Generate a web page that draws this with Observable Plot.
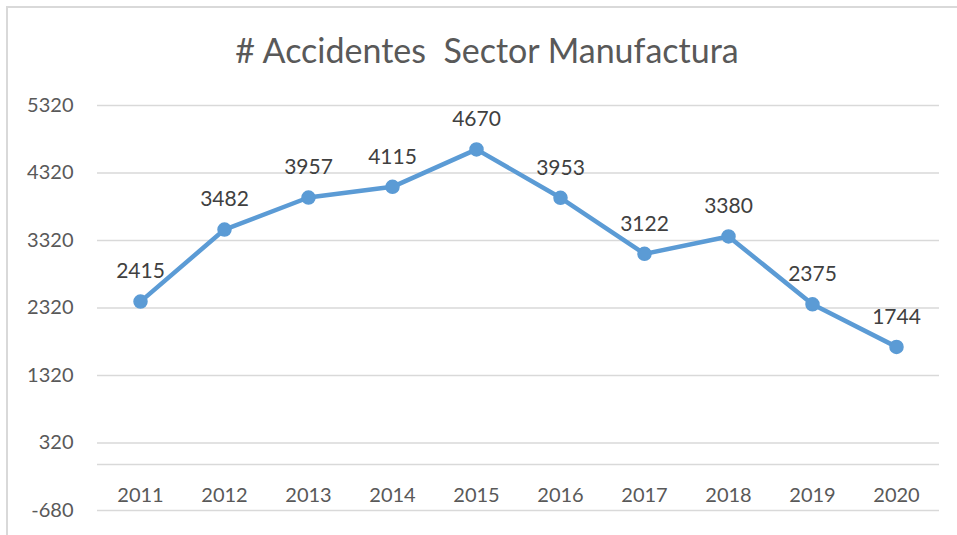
<!DOCTYPE html>
<html>
<head>
<meta charset="utf-8">
<script src="https://cdn.jsdelivr.net/npm/d3@7"></script>
<script src="https://cdn.jsdelivr.net/npm/@observablehq/plot@0.6"></script>
<style>
  html, body { margin: 0; padding: 0; background: #fff; }
  #wrap { position: relative; width: 957px; height: 535px; overflow: hidden; font-family: Lato, sans-serif; }
  #frame { position: absolute; left: 6px; top: 6px; width: 1000px; height: 1000px; border-left: 2px solid #d9d9d9; border-top: 2px solid #d9d9d9; box-sizing: border-box; }
  #title { position: absolute; left: 487px; top: 28px; transform: translateX(-50%); white-space: pre; font-size: 34px; color: #595959; line-height: 44px; }
  #chart { position: absolute; left: 0; top: 0; }
</style>
</head>
<body>
<div id="wrap">
  <div id="frame"></div>
  <div id="chart"></div>
  <div id="title"># Accidentes  Sector Manufactura</div>
</div>
<script>
const years = ["2011","2012","2013","2014","2015","2016","2017","2018","2019","2020"];
const accidents = [2415, 3482, 3957, 4115, 4670, 3953, 3122, 3380, 2375, 1744];
const yTicks = [-680, 320, 1320, 2320, 3320, 4320, 5320];

const data = years.map((y, i) => ({year: y, value: accidents[i]}));

const chart = Plot.plot({
  width: 957,
  height: 535,
  marginLeft: 97,
  marginRight: 18,
  marginTop: 105,
  marginBottom: 25,
  style: {fontFamily: "Lato, sans-serif", fontSize: "20px", background: "transparent", overflow: "visible"},
  x: {type: "point", domain: years, padding: 0.5},
  y: {domain: [-680, 5320]},
  marks: [
    Plot.gridY(yTicks, {stroke: "#d9d9d9", strokeOpacity: 1, strokeWidth: 1.5}),
    Plot.ruleY([0], {stroke: "#d9d9d9", strokeWidth: 1.5}),
    Plot.axisY(yTicks, {tickSize: 0, tickPadding: 24, fill: "#595959", fontSize: 20, label: null, tickFormat: d => String(d)}),
    Plot.axisX({anchor: "bottom", tickSize: 0, tickPadding: 0, dy: -23, fill: "#595959", fontSize: 20, label: null}),
    Plot.line(data, {x: "year", y: "value", stroke: "#5b9bd5", strokeWidth: 4.5}),
    Plot.dot(data, {x: "year", y: "value", r: 6.5, fill: "#5b9bd5", stroke: "#5b9bd5"}),
    Plot.text(data, {x: "year", y: "value", text: d => String(d.value), dy: -30, fill: "#404040", fontSize: 21})
  ]
});
document.getElementById("chart").appendChild(chart);
</script>
</body>
</html>
